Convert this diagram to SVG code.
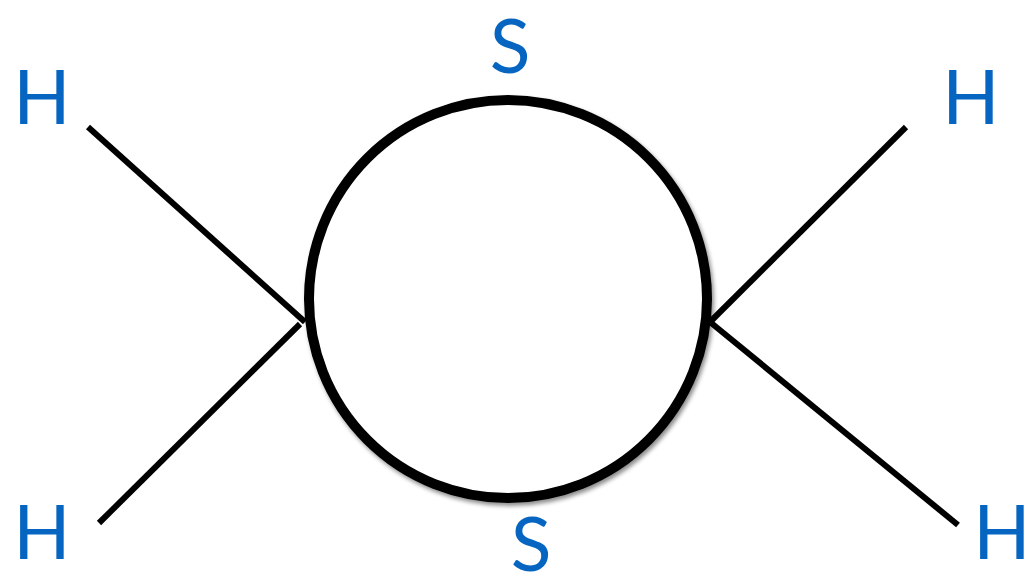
<svg xmlns="http://www.w3.org/2000/svg" width="1033" height="587" viewBox="0 0 1033 587">
  <style>
    .atom { font-family: Lato, "Open Sans", "Liberation Sans", sans-serif; font-size: 75px; fill: #0565C0; text-anchor: middle; }
    .bond { stroke: #000; stroke-width: 6; fill: none; }
    .ring { stroke: #000; stroke-width: 10; fill: #fff; }
  </style>
  <defs>
    <filter id="shadow" x="-10%" y="-10%" width="120%" height="120%">
      <feDropShadow dx="2" dy="3" stdDeviation="2" flood-color="#000" flood-opacity="0.45"/>
    </filter>
  </defs>
  <rect width="1033" height="587" fill="#fff"/>
  <g id="connectors">
    <line class="bond" x1="88" y1="127" x2="305" y2="322"/>
    <line class="bond" x1="99" y1="523" x2="300" y2="324"/>
    <line class="bond" x1="906" y1="127" x2="710" y2="322"/>
    <line class="bond" x1="710" y1="322" x2="958" y2="525"/>
  </g>
  <g id="ring">
    <circle class="ring" cx="508" cy="299" r="199" filter="url(#shadow)"/>
  </g>
  <g id="s-top"><text class="atom" x="510" y="73">S</text></g>
  <g id="s-bottom"><text class="atom" x="531" y="571">S</text></g>
  <g id="h-top-left"><text class="atom" x="42" y="124">H</text></g>
  <g id="h-bottom-left"><text class="atom" x="42" y="559">H</text></g>
  <g id="h-top-right"><text class="atom" x="971" y="124">H</text></g>
  <g id="h-bottom-right"><text class="atom" x="1002" y="559">H</text></g>
</svg>
